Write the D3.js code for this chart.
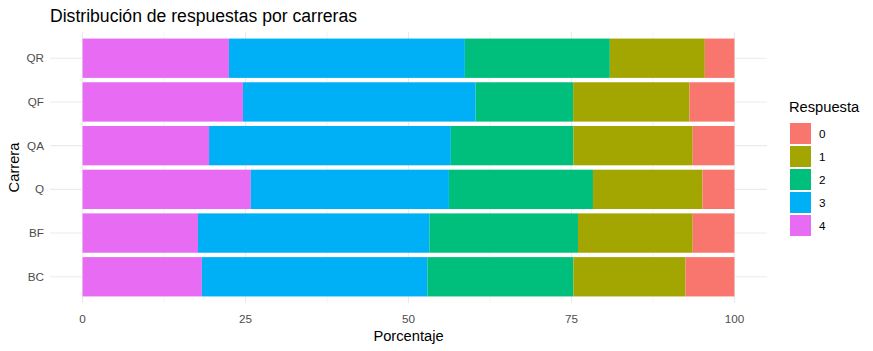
<!DOCTYPE html>
<html>
<head>
<meta charset="utf-8">
<script src="https://cdn.jsdelivr.net/npm/d3@7"></script>
<style>
  body { margin: 0; background: #fff; }
  svg { font-family: "Liberation Sans", Arial, sans-serif; }
</style>
</head>
<body>
<svg id="chart" width="873" height="351"></svg>
<script>
// Data (percent of answers per career)
const carreras = ['BC', 'BF', 'Q', 'QA', 'QF', 'QR'];
const respuestas = ['0', '1', '2', '3', '4'];
const resp0 = [7.5, 6.4, 4.9, 6.4, 6.9, 4.54];
const resp1 = [17.2, 17.6, 16.8, 18.3, 17.85, 14.57];
const resp2 = [22.4, 22.8, 22.1, 18.8, 14.96, 22.24];
const resp3 = [34.6, 35.5, 30.4, 37.1, 35.7, 36.2];
const resp4 = [18.3, 17.7, 25.8, 19.4, 24.6, 22.45];
const xTicks = [0, 25, 50, 75, 100];
const colores = ['#F8766D', '#A3A500', '#00BF7D', '#00B0F6', '#E76BF3'];

const series = [resp0, resp1, resp2, resp3, resp4];
const table = carreras.map((c, i) => {
    const row = { carrera: c };
    respuestas.forEach((r, j) => { row[r] = series[j][i]; });
    return row;
});

const svg = d3.select('#chart');
const panel = { left: 50, right: 767, top: 32, bottom: 303 };

// Scales (ggplot-style expansion)
const x = d3.scaleLinear()
    .domain([-5, 105])
    .range([panel.left, panel.right]);

const y = d3.scalePoint()
    .domain(carreras)
    .range([panel.bottom, panel.top])
    .padding(0.6);
const step = y.step();
const barH = step * 0.9;

const color = d3.scaleOrdinal().domain(respuestas).range(colores);

// Grid
const grid = svg.append('g');
const minor = xTicks.slice(0, -1).map(d => d + 12.5);
grid.selectAll('.minor')
    .data(minor)
    .join('line')
    .attr('x1', d => x(d)).attr('x2', d => x(d))
    .attr('y1', panel.top).attr('y2', panel.bottom)
    .attr('stroke', '#EBEBEB').attr('stroke-width', 0.6);
grid.selectAll('.major-x')
    .data(xTicks)
    .join('line')
    .attr('x1', d => x(d)).attr('x2', d => x(d))
    .attr('y1', panel.top).attr('y2', panel.bottom)
    .attr('stroke', '#EBEBEB').attr('stroke-width', 1.1);
grid.selectAll('.major-y')
    .data(carreras)
    .join('line')
    .attr('x1', panel.left).attr('x2', panel.right)
    .attr('y1', d => y(d)).attr('y2', d => y(d))
    .attr('stroke', '#EBEBEB').attr('stroke-width', 1.1);

// Stacked bars: 4 on the left, 0 on the right
const stack = d3.stack().keys(respuestas.slice().reverse());
const layers = stack(table);

svg.append('g')
    .selectAll('g')
    .data(layers)
    .join('g')
    .attr('fill', d => color(d.key))
    .selectAll('rect')
    .data(d => d)
    .join('rect')
    .attr('x', d => x(d[0]))
    .attr('width', d => x(d[1]) - x(d[0]))
    .attr('y', d => y(d.data.carrera) - barH / 2)
    .attr('height', barH);

// Axes text
svg.append('g')
    .selectAll('text')
    .data(xTicks)
    .join('text')
    .attr('x', d => x(d))
    .attr('y', 323)
    .attr('text-anchor', 'middle')
    .attr('fill', '#4D4D4D')
    .style('font-size', '11.7px')
    .text(d => d);

svg.append('g')
    .selectAll('text')
    .data(carreras)
    .join('text')
    .attr('x', 44)
    .attr('y', d => y(d))
    .attr('dy', '0.35em')
    .attr('text-anchor', 'end')
    .attr('fill', '#4D4D4D')
    .style('font-size', '11.7px')
    .text(d => d);

svg.append('text')
    .attr('x', (panel.left + panel.right) / 2)
    .attr('y', 341)
    .attr('text-anchor', 'middle')
    .style('font-size', '14.7px')
    .text('Porcentaje');

svg.append('text')
    .attr('transform', `translate(19,${(panel.top + panel.bottom) / 2}) rotate(-90)`)
    .attr('text-anchor', 'middle')
    .style('font-size', '14.7px')
    .text('Carrera');

// Title
svg.append('text')
    .attr('x', 50)
    .attr('y', 22)
    .style('font-size', '17.6px')
    .text('Distribución de respuestas por carreras');

// Legend
const legend = svg.append('g').attr('transform', 'translate(789,0)');
legend.append('text')
    .attr('x', 0)
    .attr('y', 112)
    .style('font-size', '14.7px')
    .text('Respuesta');

const items = legend.selectAll('.item')
    .data(respuestas)
    .join('g')
    .attr('transform', (d, i) => `translate(1,${123 + i * 23})`);
items.append('rect')
    .attr('width', 21).attr('height', 21)
    .attr('fill', d => color(d));
items.append('text')
    .attr('x', 29)
    .attr('y', 10.5)
    .attr('dy', '0.35em')
    .style('font-size', '11.7px')
    .text(d => d);
</script>
</body>
</html>
